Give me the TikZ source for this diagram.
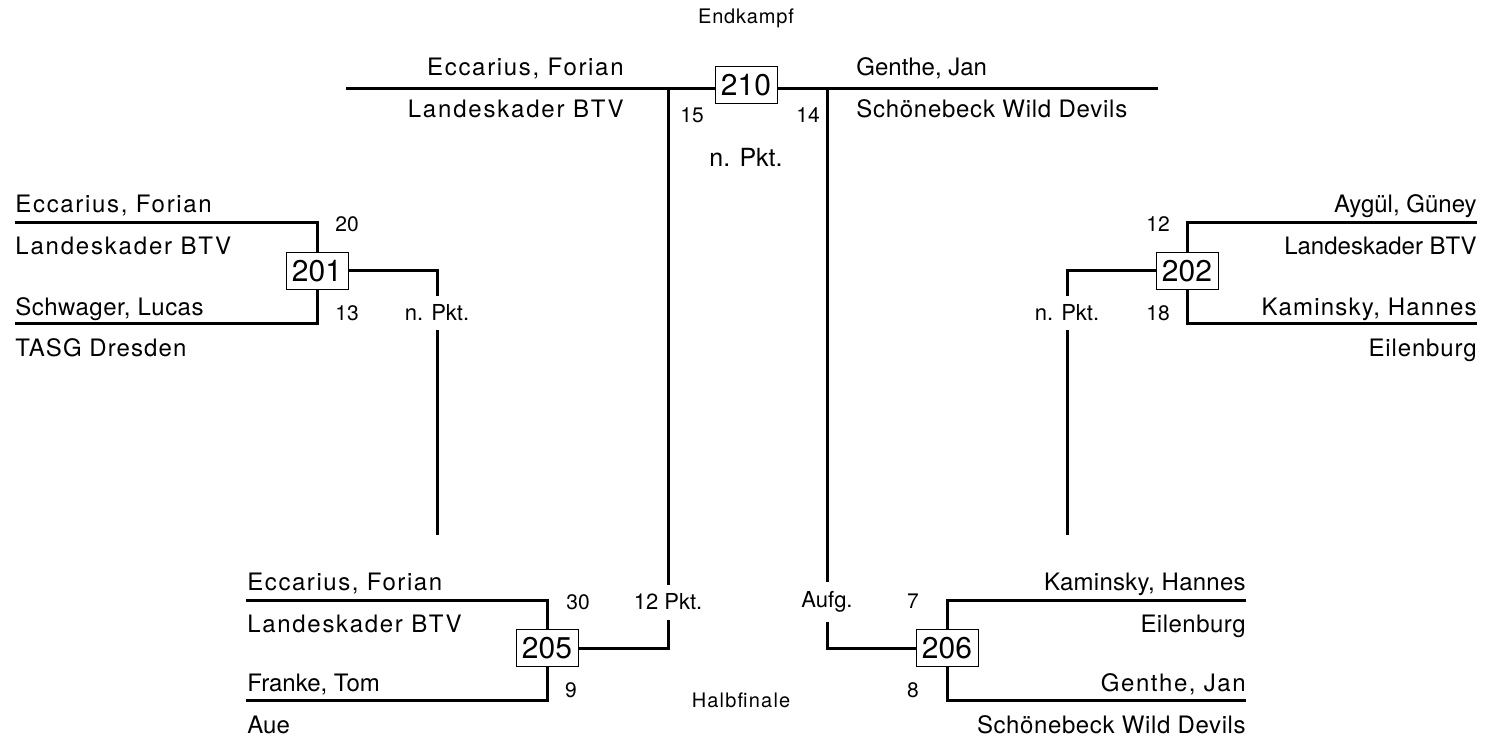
\documentclass[tikz,border=0pt]{standalone}
\usepackage{fontspec}
\setmainfont{TeX Gyre Heros}
\usetikzlibrary{positioning}

\tikzset{
  match/.style={draw, line width=0.5pt, inner sep=1.5pt, fill=white,
    font=\fontsize{15}{15}\selectfont, minimum width=31pt, minimum height=18.5pt},
  player/.style={inner sep=0pt,
    font=\fontsize{12}{12}\selectfont\addfontfeature{LetterSpace=#1}},
  player/.default=0,
  pts/.style={inner sep=0pt, font=\fontsize{10.5}{10.5}\selectfont},
  rnd/.style={inner sep=0pt, font=\fontsize{10}{10}\selectfont\addfontfeature{LetterSpace=#1}},
  rnd/.default=0,
  res/.style={inner xsep=0pt, inner ysep=4.5pt, font=\fontsize{11}{11}\selectfont},
  bline/.style={line width=1.5pt}
}

\begin{document}
\begin{tikzpicture}[x=0.5pt,y=-0.5pt]
\useasboundingbox (0,0) rectangle (1492,737);

% match boxes
\node[match] (m210) at (746,85)  {210};
\node[match] (m201) at (317,271) {201};
\node[match] (m202) at (1187,271) {202};
\node[match] (m205) at (547,648) {205};
\node[match] (m206) at (947,648) {206};

% free line ends
\coordinate (f1) at (346,89);
\coordinate (f2) at (1158,89);
\coordinate (t201) at (15,223);   \coordinate (b201) at (15,324);
\coordinate (t202) at (1477,223); \coordinate (b202) at (1477,324);
\coordinate (t205) at (246,600);  \coordinate (b205) at (246,700);
\coordinate (t206) at (1246,600); \coordinate (b206) at (1246,700);
\coordinate (e201) at (437,535);
\coordinate (e202) at (1067,535);

% results
\node[res] (r201) at (437,313)  {n. Pkt.};
\node[res] (r202) at (1067,313) {n. Pkt.};
\node[res] (r205) at (668,602)  {12 Pkt.};
\node[res] (r206) at (827,602)  {Aufg.};
\node[res, font=\fontsize{12.5}{12.5}\selectfont] (r210) at (746,157) {n. Pkt.};

% lines
\draw[bline] (f1) -- (f1 -| m210.west);
\draw[bline] (f2) -- (f2 -| m210.east);
\draw[bline] (t201) -| (m201.north);
\draw[bline] (b201) -| (m201.south);
\draw[bline] (t202) -| (m202.north);
\draw[bline] (b202) -| (m202.south);
\draw[bline] (t205) -| (m205.north);
\draw[bline] (b205) -| (m205.south);
\draw[bline] (t206) -| (m206.north);
\draw[bline] (b206) -| (m206.south);

\draw[bline] (m201.east) -| (r201.north);
\draw[bline] (r201.south) -- (e201);
\draw[bline] (m202.west) -| (r202.north);
\draw[bline] (r202.south) -- (e202);
\draw[bline] (m205.east) -| (r205.south);
\draw[bline] (r205.north) -- (r205 |- f1);
\draw[bline] (m206.west) -| (r206.south);
\draw[bline] (r206.north) -- (r206 |- f2);

% names
\node[player=7,   anchor=base east] (n1) at (624,76)  {Eccarius, Forian};
\node[player=7.5, anchor=base east] (n2) at (624,118) {Landeskader BTV};
\node[player,     anchor=base west] (n3) at (856,76)  {Genthe, Jan};
\node[player=3,   anchor=base west] (n4) at (856,118) {Schönebeck Wild Devils};

\node[player=7,   anchor=base west] (a1) at (15,213) {Eccarius, Forian};
\node[player=7.5, anchor=base west] (a2) at (15,255) {Landeskader BTV};
\node[player=2,   anchor=base west] (a3) at (15,315) {Schwager, Lucas};
\node[player=4.5, anchor=base west] (a4) at (15,357) {TASG Dresden};

\node[player,     anchor=base east] (b1) at (1477,213) {Aygül, Güney};
\node[player,     anchor=base east] (b2) at (1477,255) {Landeskader BTV};
\node[player=5,   anchor=base east] (b3) at (1477,315) {Kaminsky, Hannes};
\node[player=3.5, anchor=base east] (b4) at (1477,357) {Eilenburg};

\node[player=6.5, anchor=base west] (c1) at (247,590) {Eccarius, Forian};
\node[player=7,   anchor=base west] (c2) at (247,632) {Landeskader BTV};
\node[player,     anchor=base west] (c3) at (247,691) {Franke, Tom};
\node[player,     anchor=base west] (c4) at (247,733) {Aue};

\node[player=1,   anchor=base east] (d1) at (1246,590) {Kaminsky, Hannes};
\node[player=2,   anchor=base east] (d2) at (1246,632) {Eilenburg};
\node[player=6.5, anchor=base east] (d3) at (1246,691) {Genthe, Jan};
\node[player=2.5, anchor=base east] (d4) at (1246,733) {Schönebeck Wild Devils};

% scores
\node[pts] (s15) at (692,115) {15};
\node[pts] (s14) at (808,115) {14};
\node[pts] (s20) at (347,224) {20};
\node[pts] (s13) at (347,313) {13};
\node[pts] (s12) at (1158,224) {12};
\node[pts] (s18) at (1158,313) {18};
\node[pts] (s30) at (578,602) {30};
\node[pts] (s9)  at (571,690) {9};
\node[pts] (s7)  at (913,601) {7};
\node[pts] (s8)  at (913,690) {8};

% rounds
\node[rnd=4] (endk) at (746,18)  {Endkampf};
\node[rnd=6] (halb) at (741,700) {Halbfinale};
\end{tikzpicture}
\end{document}
